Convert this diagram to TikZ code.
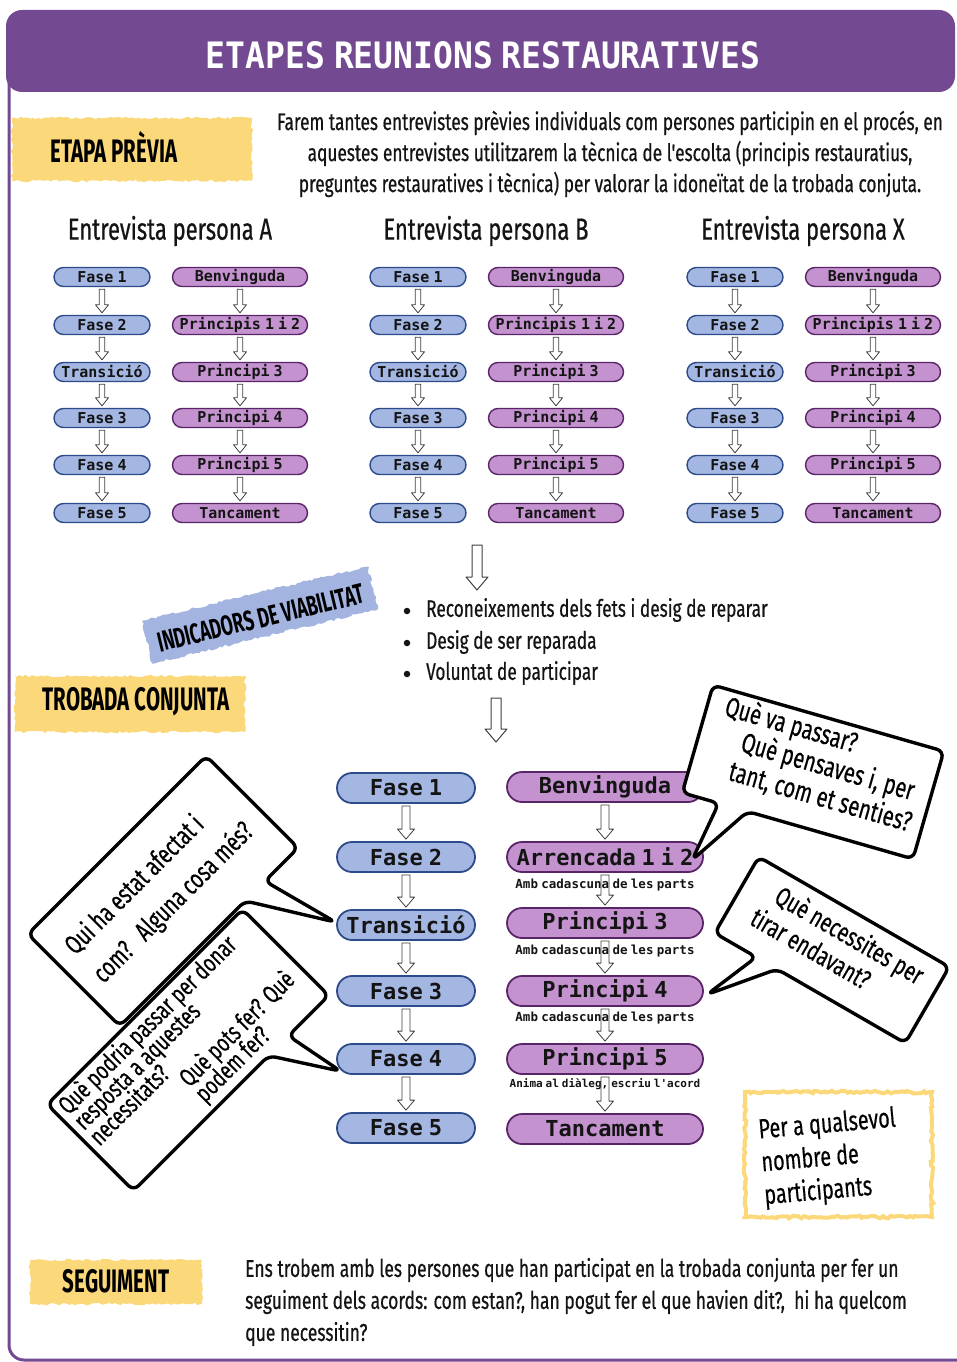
\documentclass[tikz,border=0pt]{standalone}
\usepackage{fontspec}
\usepackage{graphicx}
\setmainfont{Fira Sans}
\newfontfamily\condf[FakeStretch=0.72,FakeBold=0.6]{Fira Sans}
\newfontfamily\bubf[FakeStretch=0.72,FakeBold=0.4]{Fira Sans}
\newfontfamily\labf[FakeStretch=0.63]{Fira Sans}
\newfontfamily\monof[WordSpace=0.45]{DejaVu Sans Mono}
\usetikzlibrary{shapes.misc,decorations.pathmorphing,calc}
\definecolor{hdr}{HTML}{734A91}
\definecolor{yel}{HTML}{FBD97B}
\definecolor{lblue}{HTML}{A3B4E1}
\definecolor{blueF}{HTML}{A4B6E2}
\definecolor{blueB}{HTML}{2D4A8A}
\definecolor{purF}{HTML}{C493CF}
\definecolor{purB}{HTML}{5A2468}
\definecolor{txt}{HTML}{141414}
\newcommand\harr[6][]{\draw[harrowst,#1] let \p1=#2, \p2=#3 in
  (\x1-#4,\y1-2pt) -- (\x1-#4,\y2+#6+2pt) -- (\x1-#5,\y2+#6+2pt) -- (\x1,\y2+2pt)
  -- (\x1+#5,\y2+#6+2pt) -- (\x1+#4,\y2+#6+2pt) -- (\x1+#4,\y1-2pt) -- cycle;}
\tikzset{
  harrowst/.style={draw=black!75, line width=0.8pt, line join=round},
  sb/.style={rounded rectangle, draw=blueB, fill=blueF, line width=1.4pt, minimum width=96pt,
    minimum height=19pt, inner sep=0pt, text=txt, font=\monof\bfseries\fontsize{15}{15}\selectfont},
  sp/.style={sb, draw=purB, fill=purF, minimum width=135pt},
  bb/.style={rounded rectangle, draw=blueB, fill=blueF, line width=1.8pt, minimum width=138pt,
    minimum height=30pt, inner sep=0pt, text=txt, font=\monof\bfseries\fontsize{22}{22}\selectfont},
  bp/.style={bb, draw=purB, fill=purF, minimum width=196pt},
  subt/.style={inner sep=0pt, text=txt, font=\monof\bfseries\fontsize{12.5}{12.5}\selectfont},
  subs/.style={subt, font=\monof\bfseries\fontsize{11}{11}\selectfont},
  head/.style={inner sep=0pt, text=txt, font=\condf\fontsize{30.5}{32}\selectfont},
  body/.style={inner sep=0pt, text=txt, font=\condf\fontsize{24}{31}\selectfont},
  lab/.style={inner sep=0pt, text=black, font=\labf\bfseries\fontsize{32.5}{32}\selectfont},
  brush/.style={decorate, decoration={random steps, segment length=3pt, amplitude=1.3pt}},
  bubble/.style={draw=black, line width=3.4pt, fill=white, rounded corners=7pt, line join=round},
  btxt/.style={inner sep=0pt, text=black, font=\bubf\fontsize{28}{30}\selectfont},
}
\begin{document}
\begin{tikzpicture}[x=1pt,y=-1pt]
\useasboundingbox (0,0) rectangle (956,1362);
\fill[white] (0,0) rectangle (956,1362);
% frame
\draw[hdr, line width=3pt, rounded corners=15pt] (9,60) -- (9,1360) -- (970,1360);
\fill[hdr, rounded corners=16pt] (6,10) rectangle (955,92);
\node[text=white, inner sep=0pt, font=\monof\bfseries\fontsize{31.5}{32}\selectfont] (title) at (483,55)
  {\resizebox{554pt}{27pt}{ETAPES REUNIONS RESTAURATIVES}};
% etapa previa
\fill[yel, brush] (12,118) rectangle (252,181);
\node[lab] (ep) at (114,147) {ETAPA PRÈVIA};
\node[body, align=center] (intro) at (610,154) {Farem tantes entrevistes prèvies individuals com persones participin en el procés, en\\
aquestes entrevistes utilitzarem la tècnica de l'escolta (principis restauratius,\\
preguntes restauratives i tècnica) per valorar la idoneïtat de la trobada conjuta.};
% three interview columns
\foreach \c/\dx/\hd in {a/0/A, b/316/B, x/633/X}{
  \node[head] (\c-h) at (170+\dx,231) {Entrevista persona \hd};
  \foreach \lab/\yy [count=\i] in {Fase 1/277, Fase 2/325, Transició/372, Fase 3/418, Fase 4/465, Fase 5/513}
    \node[sb] (\c-L\i) at (102+\dx,\yy) {\lab};
  \foreach \lab/\yy [count=\i] in {Benvinguda/277, Principis 1 i 2/325, Principi 3/372, Principi 4/418, Principi 5/465, Tancament/513}
    \node[sp] (\c-R\i) at (240+\dx,\yy) {\lab};
  \foreach \i [evaluate=\i as \j using int(\i+1)] in {1,...,5}{
    \harr{(\c-L\i.south)}{(\c-L\j.north)}{2.8pt}{6.5pt}{8pt}
    \harr{(\c-R\i.south)}{(\c-R\j.north)}{2.8pt}{6.5pt}{8pt}
  }
}
% arrow to indicators
\coordinate (s1) at (477,543);
\coordinate (e1) at (477,592);
\harr[line width=1pt]{(s1)}{(e1)}{5pt}{11pt}{13pt}
% indicadors
\begin{scope}[shift={(260,615)}, rotate=13.5]
  \fill[lblue, brush] (-116,-22) rectangle (116,22);
  \node[lab, font=\labf\bfseries\fontsize{28}{28}\selectfont, transform shape] (ind) at (0,3) {INDICADORS DE VIABILITAT};
\end{scope}
\foreach \t/\yy [count=\i] in {Reconeixements dels fets i desig de reparar/610, Desig de ser reparada/642, Voluntat de participar/673}{
  \node[circle, fill=txt, inner sep=0pt, minimum size=6.5pt] (dot\i) at (407,\yy+1) {};
  \node[body, anchor=west] (bl\i) at (426,\yy) {\t};
}
\coordinate (s2) at (496,696);
\coordinate (e2) at (496,744);
\harr[line width=1pt]{(s2)}{(e2)}{5pt}{11pt}{13pt}
% trobada conjunta
\fill[yel, brush] (15,676) rectangle (245,732);
\node[lab] (tc) at (136,702) {TROBADA CONJUNTA};
% big columns
\foreach \lab/\yy [count=\i] in {Fase 1/788, Fase 2/857, Transició/925, Fase 3/991, Fase 4/1059, Fase 5/1128}
  \node[bb] (F\i) at (406,\yy) {\lab};
\foreach \lab/\yy [count=\i] in {Benvinguda/787, Arrencada 1 i 2/857, Principi 3/923, Principi 4/991, Principi 5/1059, Tancament/1129}
  \node[bp] (P\i) at (605,\yy) {\lab};
\node[subt] (sub2) at (605,885) {Amb cadascuna de les parts};
\node[subt] (sub3) at (605,951) {Amb cadascuna de les parts};
\node[subt] (sub4) at (605,1018) {Amb cadascuna de les parts};
\node[subs] (sub5) at (605,1084) {Anima al diàleg, escriu l'acord};
\foreach \i [evaluate=\i as \j using int(\i+1)] in {1,...,5}{
  \harr{(F\i.south)}{(F\j.north)}{4pt}{8.5pt}{10pt}
  \harr{(P\i.south)}{(P\j.north)}{4pt}{8.5pt}{10pt}
}
% bubble A
\begin{scope}[shift={(163,891)}, rotate=45]
  \draw[bubble] (-126,-65) -- (126,-65) -- (126,65) -- (79,65) -- (100,144) -- (51,65) -- (-126,65) -- cycle;
  \node[btxt, anchor=base west, transform shape, font=\bubf\fontsize{27}{27}\selectfont] (qa1) at (-108,-16) {Qui ha estat afectat i};
  \node[btxt, anchor=base west, transform shape, font=\bubf\fontsize{27}{27}\selectfont] (qa2) at (-108,24) {com?\hspace{14pt}Alguna cosa més?};
\end{scope}
% bubble B
\begin{scope}[shift={(188,1050)}, rotate=45]
  \draw[bubble] (-138,-61) -- (138,-61) -- (138,61) -- (81,61) -- (93,123) -- (53,61) -- (-138,61) -- cycle;
  \begin{scope}[every node/.style={btxt, anchor=base west, transform shape, font=\bubf\fontsize{25.5}{26}\selectfont}]
  \node (qb1) at (-131,-38) {Què podria passar per donar};
  \node (qb2) at (-131,-16) {resposta a aquestes};
  \node (qb3) at (-131,6) {necessitats?};
  \node (qb4) at (-26,28) {Què pots fer? Què};
  \node (qb5) at (-26,50) {podem fer?};
  \end{scope}
\end{scope}
% bubble 1
\begin{scope}[shift={(813,772)}, rotate=-16]
  \draw[bubble] (-120,-56) -- (120,-56) -- (120,56) -- (-52,56) -- (-92,118) -- (-82,56) -- (-120,56) -- cycle;
  \node[btxt, anchor=base west, transform shape] (q11) at (-102,-30) {Què va passar?};
  \node[btxt, anchor=base, transform shape] (q12) at (13,0) {Què pensaves i, per};
  \node[btxt, anchor=base, transform shape] (q13) at (14,31) {tant, com et senties?};
\end{scope}
% bubble 2
\begin{scope}[shift={(832,950)}, rotate=-30]
  \draw[bubble] (-110,-44) -- (110,-44) -- (110,44) -- (-38,44) -- (-86,101) -- (-62,44) -- (-110,44) -- cycle;
  \node[btxt, anchor=base, transform shape, font=\bubf\fontsize{27}{27}\selectfont] (q21) at (8,-12) {Què necessites per};
  \node[btxt, anchor=base, transform shape, font=\bubf\fontsize{27}{27}\selectfont] (q22) at (-19,19) {tirar endavant?};
\end{scope}
% per a qualsevol
\draw[yel, line width=4pt, brush] (745,1092) rectangle (932,1217);
\node[btxt, align=left, rotate=5, font=\bubf\fontsize{27.5}{33}\selectfont] (pq) at (830,1158) {Per a qualsevol\\nombre de\\participants};
% seguiment
\fill[yel, brush] (30,1260) rectangle (202,1304);
\node[lab] (sg) at (116,1281) {SEGUIMENT};
\node[body, align=left, anchor=west, font=\condf\fontsize{24.3}{32}\selectfont] (sgt) at (245,1302) {Ens trobem amb les persones que han participat en la trobada conjunta per fer un\\
seguiment dels acords: com estan?, han pogut fer el que havien dit?,\ \ hi ha quelcom\\
que necessitin?};
\end{tikzpicture}
\end{document}
